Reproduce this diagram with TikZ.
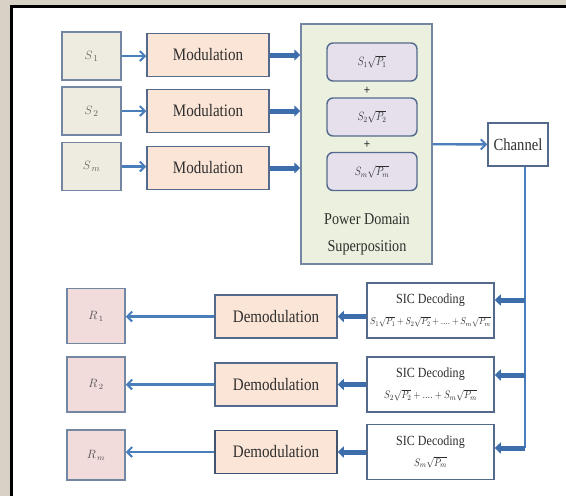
\documentclass[tikz,border=0pt]{standalone}
\usepackage{amsmath}
\usepackage{fontspec}
\setmainfont{Liberation Serif}[FakeStretch=0.86]
\usetikzlibrary{arrows.meta}
\definecolor{nomapaper}{HTML}{D8D2C6}
\definecolor{nomasrc}{HTML}{EEECE1}
\definecolor{nomamod}{HTML}{FBE5D6}
\definecolor{nomasup}{HTML}{EBF1DE}
\definecolor{nomapow}{HTML}{E6E0EC}
\definecolor{nomarx}{HTML}{F2DCDB}
\definecolor{nomaedge}{HTML}{7387A3}
\definecolor{nomadark}{HTML}{536A8C}
\definecolor{nomablue}{HTML}{4A7EBB}
\definecolor{nomafat}{HTML}{3E6DAC}
\definecolor{nomatext}{HTML}{2E2E2E}
\newcommand{\nomasum}[1]{\scalebox{0.84}[1]{$#1$}}

\begin{document}
\begin{tikzpicture}[x=1pt,y=-1pt,text=nomatext,
    srcbox/.style={draw=nomaedge,fill=nomasrc,line width=1.5pt,minimum width=59pt,minimum height=48pt,inner sep=0pt,font=\fontsize{13}{15}\selectfont,text=nomatext!75},
    rxbox/.style={srcbox,fill=nomarx,minimum width=58pt,minimum height=55pt,font=\fontsize{12}{14}\selectfont,text=nomatext!85},
    modbox/.style={draw=nomadark,fill=nomamod,line width=1.5pt,minimum width=122pt,minimum height=43pt,inner sep=0pt,font=\fontsize{17.5}{20}\selectfont},
    powbox/.style={draw=nomadark,fill=nomapow,line width=1.4pt,rounded corners=6pt,minimum width=90pt,minimum height=38pt,inner sep=0pt,font=\fontsize{12}{13}\selectfont},
    sicbox/.style={draw=nomadark,fill=white,line width=1.5pt,minimum width=127pt,minimum height=55pt,inner sep=0pt,align=center,font=\fontsize{14}{15}\selectfont},
    thin/.style={nomablue,line width=2.4pt,-{Straight Barb[length=5pt,width=10pt,line width=2pt]}},
    fat/.style={nomafat,line width=5pt,-{Triangle[length=6pt,width=11pt]}}]
  \useasboundingbox (0,0) rectangle (566,496);
  \fill[nomapaper] (0,0) rectangle (566,496);
  \fill[white] (11.5,6) rectangle (566,496);
  \draw[line width=3pt,black] (11.5,496) -- (11.5,6) -- (566,6);

  \node[srcbox] (s1) at (91.5,56) {$S_{\,1}$};
  \node[srcbox] (s2) at (91.5,111) {$S_{\,2}$};
  \node[srcbox] (sm) at (91.5,166.5) {$S_{\,m}$};
  \node[modbox] (mod1) at (208,55) {Modulation};
  \node[modbox] (mod2) at (208,111) {Modulation};
  \node[modbox] (modm) at (208,168) {Modulation};
  \node[draw=nomaedge,fill=nomasup,line width=1.5pt,minimum width=131pt,minimum height=240pt] (sup) at (366.5,144) {};
  \node[powbox] (pow1) at (372,62) {\nomasum{S_1\sqrt{P_1}}};
  \node[powbox] (pow2) at (372,117) {\nomasum{S_2\sqrt{P_2}}};
  \node[powbox] (powm) at (372,171.5) {\nomasum{S_m\sqrt{P_m}}};
  \node[font=\bfseries\fontsize{13}{13}\selectfont] (plus1) at (367,90.5) {+};
  \node[font=\bfseries\fontsize{13}{13}\selectfont] (plus2) at (367,145) {+};
  \node[align=center,font=\fontsize{16.5}{27}\selectfont] (suplabel) at (367,234) {Power Domain\\Superposition};
  \node[draw=nomadark,fill=white,line width=1.5pt,minimum width=60pt,minimum height=43pt,inner sep=0pt,font=\fontsize{17}{20}\selectfont] (chan) at (518,144.5) {Channel};

  \node[sicbox] (sic1) at (430.5,310.5) {SIC Decoding\\[6pt]{\fontsize{10}{10}\selectfont\nomasum{S_1\sqrt{P_1}+S_2\sqrt{P_2}+....+S_m\sqrt{P_m}}}};
  \node[sicbox] (sic2) at (430.5,384.5) {SIC Decoding\\[6pt]{\fontsize{11}{11}\selectfont\nomasum{S_2\sqrt{P_2}+....+S_m\sqrt{P_m}}}};
  \node[sicbox] (sicm) at (430.5,452) {SIC Decoding\\[6pt]{\fontsize{11}{11}\selectfont\nomasum{S_m\sqrt{P_m}}}};
  \node[modbox] (dem1) at (276,316.5) {Demodulation};
  \node[modbox] (dem2) at (276,384.5) {Demodulation};
  \node[modbox,draw=nomadark!80!black] (demm) at (276,452) {Demodulation};
  \node[rxbox] (r1) at (96,316) {$R_{\,1}$};
  \node[rxbox] (r2) at (96,384.5) {$R_{\,2}$};
  \node[rxbox,minimum height=50pt] (rm) at (96,455) {$R_{\,m}$};

  \draw[thin] (s1) -- (mod1.west |- s1);
  \draw[thin] (s2) -- (mod2.west |- s2);
  \draw[thin] (sm) -- (modm.west |- sm);
  \draw[fat] (mod1) -- (sup.west |- mod1);
  \draw[fat] (mod2) -- (sup.west |- mod2);
  \draw[fat] (modm) -- (sup.west |- modm);
  \draw[thin] (sup) -- (chan);

  \coordinate (tap1) at (525,300);
  \coordinate (tap2) at (525,375);
  \coordinate (tapm) at (525,448);
  \draw[nomablue,line width=2.4pt] (chan.south -| tapm) -- (tapm);
  \draw[fat] (tap1) -- (sic1.east |- tap1);
  \draw[fat] (tap2) -- (sic2.east |- tap2);
  \draw[fat] (tapm) -- (sicm.east |- tapm);
  \draw[fat] (sic1.west |- dem1) -- (dem1);
  \draw[fat] (sic2.west |- dem2) -- (dem2);
  \draw[fat] (sicm.west |- demm) -- (demm);
  \draw[thin] (dem1) -- (r1.east |- dem1);
  \draw[thin] (dem2) -- (r2.east |- dem2);
  \draw[thin] (demm) -- (rm.east |- demm);
\end{tikzpicture}
\end{document}
